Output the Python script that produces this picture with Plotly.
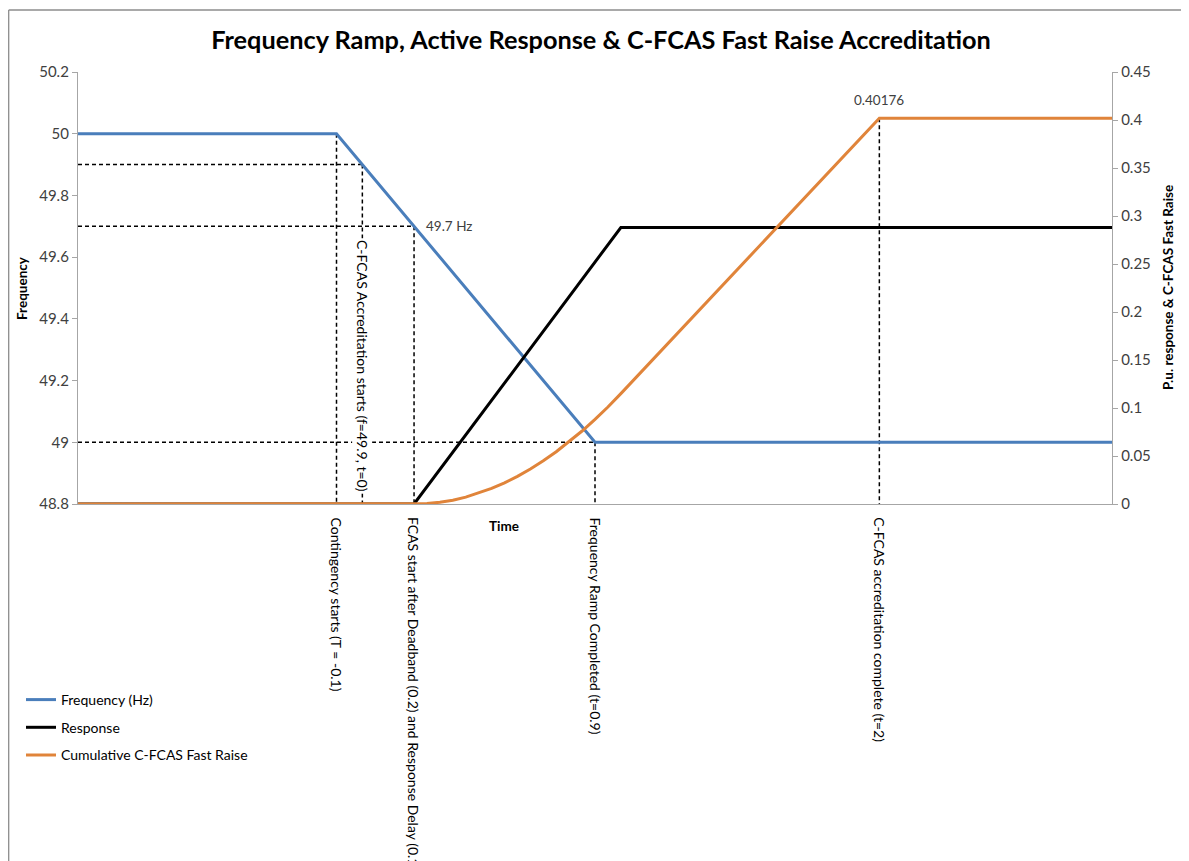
import plotly.graph_objects as go

# ---------------- data ----------------
freq_time = [-1.1, -0.1, 0.9, 2.9]
freq_hz = [50.0, 50.0, 49.0, 49.0]

resp_time = [-1.1, 0.2, 1.0, 2.9]
resp_pu = [0.0, 0.0, 0.288, 0.288]

cum_time = [-1.1, 0.2, 0.25, 0.3, 0.35, 0.4, 0.45, 0.5, 0.55, 0.6, 0.65, 0.7, 0.75,
            0.8, 0.85, 0.9, 0.95, 1.0, 2.0, 2.9]
cum_pu = [0.0, 0.0, 0.0005, 0.0018, 0.004, 0.0072, 0.0113, 0.0162, 0.022, 0.0288, 0.0365,
          0.045, 0.0545, 0.0648, 0.076, 0.0882, 0.101, 0.115, 0.40176, 0.40176]

series_names = ["Frequency (Hz)", "Response", "Cumulative C-FCAS Fast Raise"]

# guide (dashed) lines on frequency axis: (time, frequency level)
guide_time = [-0.1, 0.0, 0.2, 0.9]
guide_freq = [50.0, 49.9, 49.7, 49.0]
# guide on secondary axis
accr_time = 2.0
accr_value = 0.40176

event_labels = [
    (-0.1, "Contingency starts (T = -0.1)"),
    (0.2, "FCAS start after Deadband (0.2) and Response Delay (0.1)"),
    (0.9, "Frequency Ramp Completed (t=0.9)"),
    (2.0, "C-FCAS accreditation complete (t=2)"),
]

X_MIN, X_MAX = -1.1, 2.9
Y_MIN, Y_MAX = 48.8, 50.2
Y2_MIN, Y2_MAX = 0.0, 0.45

FONT = "Lato, 'Open Sans', sans-serif"
BLUE = "#4A7EBB"
ORANGE = "#E0843A"
AXIS = "#A6A6A6"

# page offset (body margin) compensation
OFF = 8
W, H = 1189 - OFF, 861 - OFF
PL, PR, PT, PB = 78 - OFF, 1112 - OFF, 72 - OFF, 504 - OFF  # plot area in figure px
PW, PH = PR - PL, PB - PT


def px_x(page_x):
    return (page_x - OFF - PL) / PW


def px_y(page_y):
    return (PB - (page_y - OFF)) / PH


fig = go.Figure()
fig.add_trace(go.Scatter(x=freq_time, y=freq_hz, mode="lines", name=series_names[0],
                         line=dict(color=BLUE, width=3), legendgroup="a"))
fig.add_trace(go.Scatter(x=resp_time, y=resp_pu, mode="lines", name=series_names[1],
                         line=dict(color="black", width=3), yaxis="y2", legendgroup="b"))
fig.add_trace(go.Scatter(x=cum_time, y=cum_pu, mode="lines", name=series_names[2],
                         line=dict(color=ORANGE, width=3), yaxis="y2", legendgroup="c"))

dash = dict(color="black", width=1.5, dash="4px,3px")
shapes = []
for t, f in zip(guide_time, guide_freq):
    shapes.append(dict(type="line", xref="x", yref="y", x0=t, x1=t, y0=f, y1=Y_MIN,
                       line=dash, layer="below"))
    if f < 50.0:
        shapes.append(dict(type="line", xref="x", yref="y", x0=X_MIN, x1=t, y0=f, y1=f,
                           line=dash, layer="below"))
shapes.append(dict(type="line", xref="x", yref="y2", x0=accr_time, x1=accr_time,
                   y0=accr_value, y1=Y2_MIN, line=dash, layer="below"))

# chart-area border (top and left)
bx = (0.7 - PL) / PW
by_top = px_y(10)
by_bot = px_y(880)
bx_r = px_x(1200)
shapes.append(dict(type="line", xref="paper", yref="paper", x0=bx, x1=bx_r, y0=by_top, y1=by_top,
                   line=dict(color="#8C8C8C", width=1.3)))
shapes.append(dict(type="line", xref="paper", yref="paper", x0=bx, x1=bx, y0=by_top, y1=by_bot,
                   line=dict(color="#8C8C8C", width=1.3)))

annotations = []
lab_font = dict(family=FONT, size=14, color="#000000")
for t, txt in event_labels:
    annotations.append(dict(x=t, xref="x", y=px_y(515), yref="paper", text=txt,
                            textangle=90, showarrow=False, xanchor="center", yanchor="top",
                            font=lab_font))

annotations.append(dict(x=guide_time[1], xref="x", y=49.7, yref="y",
                        text="C-FCAS Accreditation starts (f=49.9, t=0)", textangle=90,
                        showarrow=False, xanchor="center", yanchor="top", yshift=-12,
                        bgcolor="white", font=lab_font))
annotations.append(dict(x=guide_time[2], xref="x", y=guide_freq[2], yref="y", text="49.7 Hz",
                        showarrow=False, xanchor="left", yanchor="middle", xshift=10,
                        font=dict(family=FONT, size=13.5, color="#404040")))
annotations.append(dict(x=accr_time, xref="x", y=accr_value, yref="y2", text="0.40176",
                        showarrow=False, xanchor="center", yanchor="bottom", yshift=8,
                        font=dict(family=FONT, size=13.5, color="#404040")))
annotations.append(dict(x=px_x(504), xref="paper", y=px_y(526), yref="paper", text="<b>Time</b>",
                        showarrow=False, xanchor="center", yanchor="middle",
                        font=dict(family=FONT, size=13.5, color="#000000")))
annotations.append(dict(x=px_x(22), xref="paper", y=0.5, yref="paper",
                        text="<b>Frequency</b>", textangle=-90, showarrow=False,
                        xanchor="center", yanchor="middle",
                        font=dict(family=FONT, size=13.5, color="#000000")))
annotations.append(dict(x=px_x(1168), xref="paper", y=0.5, yref="paper",
                        text="<b>P.u. response &amp; C-FCAS Fast Raise</b>", textangle=-90,
                        showarrow=False, xanchor="center", yanchor="middle",
                        font=dict(family=FONT, size=13.5, color="#000000")))

fig.update_layout(
    width=W, height=H,
    margin=dict(l=PL, r=W - PR, t=PT, b=H - PB),
    paper_bgcolor="white", plot_bgcolor="white",
    title=dict(text="<b>Frequency Ramp, Active Response &amp; C-FCAS Fast Raise Accreditation</b>",
               x=(601 - OFF) / W, xanchor="center", y=1 - (40 - OFF) / H, yanchor="middle",
               font=dict(family=FONT, size=25.3, color="#000000")),
    xaxis=dict(range=[X_MIN, X_MAX], showticklabels=False, ticks="", showgrid=False,
               zeroline=False, showline=True, linecolor=AXIS, linewidth=1.3),
    yaxis=dict(range=[Y_MIN, Y_MAX], dtick=0.2, tick0=48.8, ticks="outside", ticklen=5,
               tickcolor=AXIS, showgrid=False, zeroline=False, showline=True,
               linecolor=AXIS, linewidth=1.3,
               tickfont=dict(family=FONT, size=15, color="#404040")),
    yaxis2=dict(range=[Y2_MIN, Y2_MAX], dtick=0.05, tick0=0, overlaying="y", side="right",
                ticks="outside", ticklen=5, tickcolor=AXIS, showgrid=False, zeroline=False,
                showline=True, linecolor=AXIS, linewidth=1.3,
                tickfont=dict(family=FONT, size=15, color="#404040")),
    legend=dict(x=px_x(21), xanchor="left", y=px_y(684), yanchor="top",
                font=dict(family=FONT, size=14, color="#000000"), tracegroupgap=6.5,
                bgcolor="rgba(0,0,0,0)", itemwidth=30),
    shapes=shapes,
    annotations=annotations,
    showlegend=True,
)

fig.write_html("out.html")
